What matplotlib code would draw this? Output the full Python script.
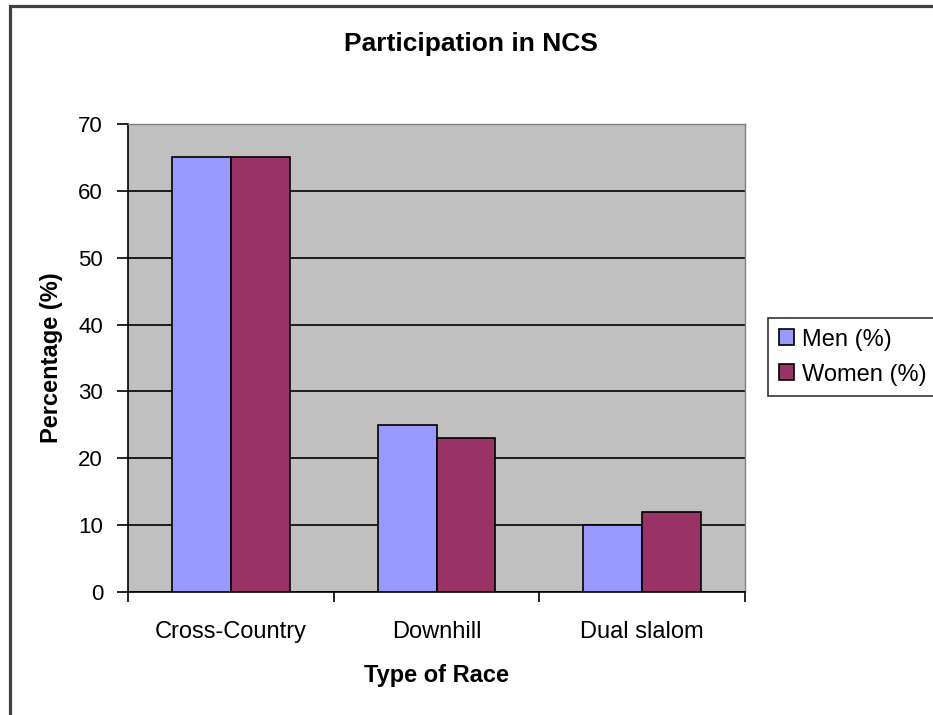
import matplotlib.pyplot as plt
import numpy as np
from matplotlib.patches import Rectangle

plt.rcParams['font.family'] = ['Liberation Sans', 'DejaVu Sans']

# race participation data
races = ["Cross-Country", "Downhill", "Dual slalom"]
men = [65, 25, 10]
women = [65, 23, 12]
series_names = ["Men (%)", "Women (%)"]
y_ticks = [0, 10, 20, 30, 40, 50, 60, 70]

W, H = 933, 715


def fx(px):
    return px / W


def fy(py):
    return 1 - py / H


def draw_chart():
    fig = plt.figure(figsize=(W / 100, H / 100), dpi=100)
    fig.patch.set_facecolor("white")

    # outer chart frame, only left/top edges fall inside the image
    fig.patches.append(Rectangle((fx(10.3), -0.1), 1.2, fy(5.7) + 0.1,
                                 transform=fig.transFigure, fill=False,
                                 edgecolor="#404040", linewidth=2.3))

    ax = fig.add_axes([fx(128), fy(592), fx(745) - fx(128), fy(124) - fy(592)])
    ax.set_facecolor("#C0C0C0")

    x = np.arange(len(races))
    w = 1 / 3.5
    ax.bar(x - w / 2, men, w, color="#9999FF", edgecolor="black", linewidth=1.2,
           label=series_names[0], zorder=3)
    ax.bar(x + w / 2, women, w, color="#993366", edgecolor="black", linewidth=1.2,
           label=series_names[1], zorder=3)

    ax.set_xlim(-0.5, 2.5)
    ax.set_ylim(0, 70)
    ax.set_yticks(y_ticks)
    ax.yaxis.grid(True, color="black", linewidth=1.2, zorder=1)
    ax.set_axisbelow(True)

    # category boundary ticks on x, labels centered between them
    ax.set_xticks([-0.5, 0.5, 1.5, 2.5])
    ax.set_xticklabels([])
    ax.set_xticks(x, minor=True)
    ax.set_xticklabels(races, minor=True, fontsize=17)
    ax.tick_params(axis="x", which="minor", length=0, pad=21)
    ax.tick_params(axis="x", which="major", length=7, width=1.2, direction="out")
    ax.tick_params(axis="y", length=8, width=1.2, direction="out", labelsize=16, pad=10)

    for side in ["top", "right"]:
        ax.spines[side].set_color("#808080")
        ax.spines[side].set_linewidth(1.0)
    for side in ["left", "bottom"]:
        ax.spines[side].set_color("black")
        ax.spines[side].set_linewidth(1.2)

    fig.text(fx(471), fy(51), "Participation in NCS", ha="center", va="baseline",
             fontsize=19, fontweight="bold")
    fig.text(fx(52), fy(358), "Percentage (%)", ha="center", va="center",
             rotation=90, fontsize=17, fontweight="bold")
    fig.text(fx(436), fy(682), "Type of Race", ha="center", va="baseline",
             fontsize=17, fontweight="bold")

    leg = ax.legend(loc="upper left", bbox_to_anchor=(fx(768), fy(318)),
                    bbox_transform=fig.transFigure, frameon=True, fancybox=False,
                    edgecolor="black", fontsize=17, handlelength=0.65, handleheight=0.65,
                    handletextpad=0.35, borderpad=0.45, labelspacing=0.55,
                    borderaxespad=0)
    leg.get_frame().set_linewidth(1.2)

    fig.savefig("out.png", dpi=100)


draw_chart()
